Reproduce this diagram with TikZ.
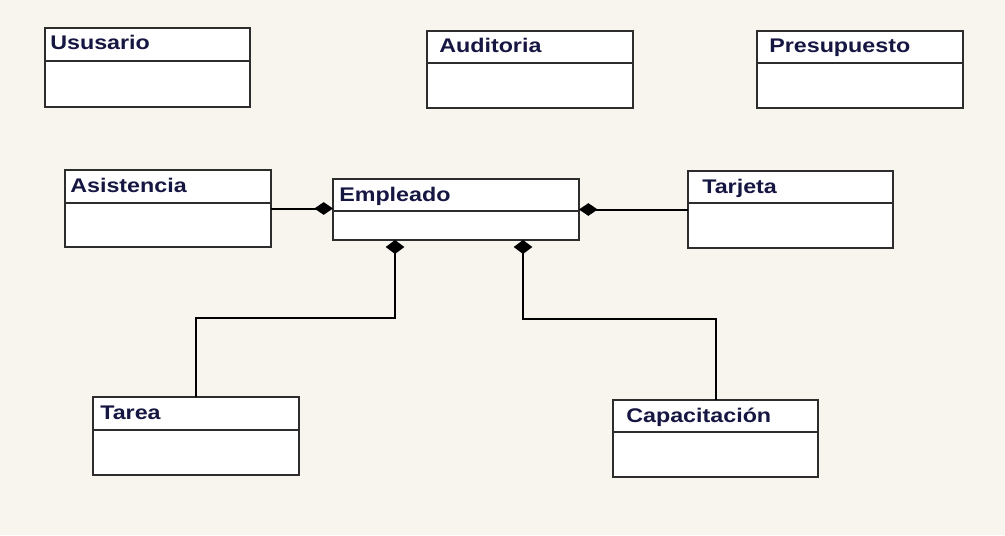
\documentclass[tikz,border=0pt]{standalone}
\usepackage{fontspec}
\newfontfamily\umlfont{Liberation Sans}[FakeStretch=1.18]
\usetikzlibrary{arrows.meta}
\definecolor{bgbeige}{RGB}{248,245,239}
\definecolor{boxline}{RGB}{45,45,45}
\definecolor{labelink}{RGB}{22,22,66}
\tikzset{
  classbox/.style={draw=boxline, line width=1.5pt, fill=white, inner sep=0pt, outer sep=0pt, rectangle},
  divline/.style={draw=boxline, line width=1.5pt},
  classlabel/.style={anchor=base west, inner sep=0pt, text=labelink, font=\umlfont\bfseries\fontsize{14.8pt}{16pt}\selectfont},
  conn/.style={draw=black, line width=1.5pt},
  hdiamond/.style={-{Diamond[length=14pt,width=9.5pt]}},
  vdiamond/.style={-{Diamond[length=10.5pt,width=14pt]}}
}
% name, x1, y1, x2, y2, divider y, text offset, label
\newcommand\umlclass[8]{%
  \node[classbox, minimum width={(#4-#2)*0.75pt}, minimum height={(#5-#3)*0.75pt}] (#1) at ({(#2+#4)/2},{(#3+#5)/2}) {};
  \draw[divline] (#2,#6) -- (#4,#6);
  \node[classlabel] (#1-label) at ({#2+#7},{#3+22}) {#8};
}
\begin{document}
\begin{tikzpicture}[x=0.75pt,y=-0.75pt]
\fill[bgbeige] (0,0) rectangle (1005,535);
\useasboundingbox (0,0) rectangle (1005,535);
\umlclass{usu}{45}{28}{250}{107}{61}{5}{Ususario}
\umlclass{aud}{427}{31}{633}{108}{63}{12}{Auditoria}
\umlclass{pre}{757}{31}{963}{108}{63}{12}{Presupuesto}
\umlclass{asi}{65}{170}{271}{247}{203}{5}{Asistencia}
\umlclass{emp}{333}{179}{579}{240}{211}{6}{Empleado}
\umlclass{tar}{688}{171}{893}{248}{203}{14}{Tarjeta}
\umlclass{tre}{93}{397}{299}{475}{430}{7}{Tarea}
\umlclass{cap}{613}{400}{818}{477}{432}{13}{Capacitación}
\coordinate (bendL) at (395,318);
\coordinate (bendR) at (523,319);
\draw[conn,hdiamond] (asi.east) -- (asi.east -| emp.west);
\draw[conn,hdiamond] (tar.west) -- (tar.west -| emp.east);
\draw[conn,vdiamond] (tre.north) |- (bendL) -- (bendL |- emp.south);
\draw[conn,vdiamond] (cap.north) |- (bendR) -- (bendR |- emp.south);
\end{tikzpicture}
\end{document}
